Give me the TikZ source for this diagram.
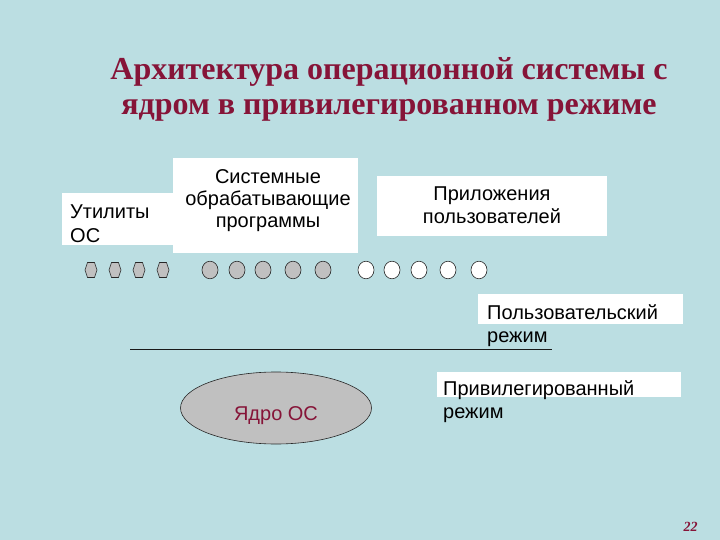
\documentclass[tikz,border=0pt]{standalone}
\usepackage{fontspec}
\setmainfont{Liberation Sans}
\newfontfamily\titlefont{Liberation Serif}
\usetikzlibrary{shapes.geometric}
\definecolor{slidebg}{RGB}{187,222,226}
\definecolor{titlered}{RGB}{134,20,56}
\definecolor{chipgray}{RGB}{192,192,192}
\begin{document}
\begin{tikzpicture}[x=1pt,y=-1pt,
    every node/.style={font=\fontsize{20}{23}\selectfont,inner sep=0pt},
    chip/.style={fill=chipgray,draw=black!85,line width=.6pt},
    userchip/.style={fill=white,draw=black!85,line width=.6pt}]
    \fill[slidebg] (0,0) rectangle (720,540);

    % Заголовок слайда.
    \node[font=\titlefont\bfseries\fontsize{32}{35}\selectfont,
        text=titlered,align=center,anchor=base] (title) at (389,115)
        {Архитектура операционной системы с\\ядром в привилегированном режиме};

    % Белые подложки надписей.
    \fill[white] (62,193) rectangle (173,245);
    \fill[white] (173,158) rectangle (358,253);
    \fill[white] (377,176) rectangle (607,236);
    \fill[white] (478,294) rectangle (683,324);
    \fill[white] (437,372) rectangle (681,397);

    \node[align=left,anchor=base west,font=\fontsize{20}{24}\selectfont]
        (util) at (70,242) {Утилиты\\ОС};
    \node[align=center,anchor=base,font=\fontsize{20}{22}\selectfont]
        (sysprog) at (268,228) {Системные\\обрабатывающие\\программы};
    \node[align=center,anchor=base] (apps) at (492,224)
        {Приложения\\пользователей};
    \node[align=left,anchor=base west] (usermode) at (487,342)
        {Пользовательский\\режим};
    \node[align=left,anchor=base west] (privmode) at (443,418)
        {Привилегированный\\режим};

    % Процессы: утилиты, системные и пользовательские.
    \foreach \x in {91,115,139,163} {
        \draw[chip] (\x-6,270) -- (\x-3.5,262.5) -- (\x+3.5,262.5) -- (\x+6,270)
            -- (\x+3.5,277.5) -- (\x-3.5,277.5) -- cycle;
    }
    \foreach \x in {210,237,263,293,323} {
        \draw[chip] (\x,270) ellipse (8 and 8.8);
    }
    \foreach \x in {366,392,419,448,479} {
        \draw[userchip] (\x,270) ellipse (8 and 8.8);
    }

    % Граница между режимами.
    \coordinate (bound west) at (130,349);
    \coordinate (bound east) at (552,349);
    \draw[black!90,line width=.7pt] (bound west) -- (bound east);

    % Ядро.
    \node[ellipse,fill=chipgray,draw=black!85,line width=.6pt,
        minimum width=191,minimum height=72] (kernel) at (276,408) {};
    \node[text=titlered,anchor=base] (kernel name) at (276,420) {Ядро ОС};

    \node[font=\titlefont\bfseries\itshape\fontsize{14}{16}\selectfont,
        text=titlered,anchor=base] (page) at (690.5,531) {22};
\end{tikzpicture}
\end{document}
